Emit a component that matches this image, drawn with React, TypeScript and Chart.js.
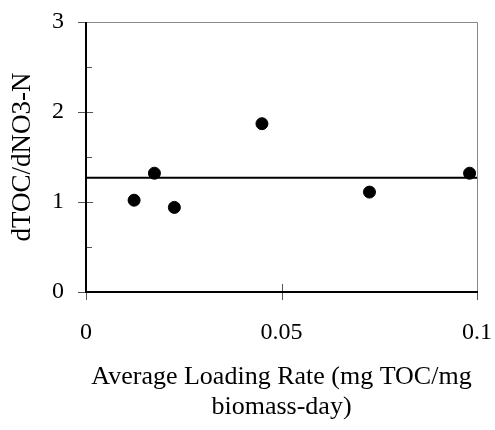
import React, { useEffect, useRef } from "react";
import { Chart, registerables } from "chart.js";

Chart.register(...registerables);

const loadingRate = [0.0123, 0.0175, 0.0226, 0.045, 0.0725, 0.0981];
const dTocNo3 = [1.02, 1.32, 0.94, 1.87, 1.11, 1.32];
const meanRatio = 1.27;
const xTicks = [0, 0.05, 0.1];
const yTicks = [0, 1, 2, 3];
const yMinorTicks = [0.5, 1.5, 2.5];
const xTitle = ["Average Loading Rate (mg TOC/mg", "biomass-day)"];
const yTitle = "dTOC/dNO3-N";

const FONT = "'Liberation Serif', 'Times New Roman', serif";

const framePlugin = {
  id: "frame",
  afterDatasetsDraw(chart: any) {
    const { ctx, chartArea } = chart;
    const { left, right, top, bottom } = chartArea;
    const xs = chart.scales.x;
    const ys = chart.scales.y;
    ctx.save();
    ctx.strokeStyle = "#888";
    ctx.lineWidth = 1;
    ctx.beginPath();
    ctx.moveTo(left, top + 0.5);
    ctx.lineTo(right + 0.5, top + 0.5);
    ctx.lineTo(right + 0.5, bottom);
    ctx.stroke();
    ctx.strokeStyle = "#555";
    ctx.lineWidth = 1;
    ctx.beginPath();
    yTicks.forEach((v) => {
      const y = Math.round(ys.getPixelForValue(v)) + 0.5;
      ctx.moveTo(left - 8, y);
      ctx.lineTo(v === 0 || v === 3 ? left : left + 7, y);
    });
    yMinorTicks.forEach((v) => {
      const y = Math.round(ys.getPixelForValue(v)) + 0.5;
      ctx.moveTo(left, y);
      ctx.lineTo(left + 6, y);
    });
    xTicks.forEach((v, i) => {
      const x = Math.round(xs.getPixelForValue(v)) + 0.5;
      const inner = i > 0 && i < xTicks.length - 1;
      ctx.moveTo(x, inner ? bottom - 8 : bottom);
      ctx.lineTo(x, bottom + 8);
    });
    ctx.stroke();
    ctx.strokeStyle = "#000";
    ctx.lineWidth = 2;
    ctx.beginPath();
    ctx.moveTo(left, top);
    ctx.lineTo(left, bottom);
    ctx.lineTo(right + 1, bottom);
    ctx.stroke();
    ctx.restore();
  },
};

export default function App() {
  const ref = useRef<HTMLCanvasElement | null>(null);
  useEffect(() => {
    if (!ref.current) return;
    const chart = new Chart(ref.current, {
      type: "scatter",
      data: {
        datasets: [
          {
            type: "scatter",
            data: loadingRate.map((x, i) => ({ x, y: dTocNo3[i] })),
            backgroundColor: "#000",
            borderColor: "#000",
            pointRadius: 6,
            pointHoverRadius: 6,
            clip: false as any,
            order: 0,
          },
          {
            type: "line",
            data: [
              { x: xTicks[0], y: meanRatio },
              { x: xTicks[xTicks.length - 1], y: meanRatio },
            ],
            borderColor: "#000",
            borderWidth: 2,
            pointRadius: 0,
            fill: false,
            order: 1,
          } as any,
        ],
      },
      options: {
        animation: false,
        responsive: false,
        events: [],
        layout: { padding: { left: 0, top: 22, right: 18, bottom: 0 } },
        plugins: { legend: { display: false }, tooltip: { enabled: false } },
        scales: {
          x: {
            type: "linear",
            min: 0,
            max: 0.1,
            afterBuildTicks: (s: any) => {
              s.ticks = xTicks.map((v) => ({ value: v }));
            },
            afterFit: (s: any) => {
              s.height = 138;
              s.paddingLeft = 0;
              s.paddingRight = 0;
            },
            grid: { display: false, drawTicks: false },
            border: { display: false },
            ticks: {
              color: "#000",
              padding: 26,
              maxRotation: 0,
              font: { family: FONT, size: 24 },
              callback: (v: any) => String(Number(v)),
            },
            title: {
              display: true,
              text: xTitle,
              color: "#000",
              font: { family: FONT, size: 26, lineHeight: 1.15 },
              padding: { top: 0, bottom: 8 },
            },
          },
          y: {
            type: "linear",
            min: 0,
            max: 3,
            afterBuildTicks: (s: any) => {
              s.ticks = yTicks.map((v) => ({ value: v }));
            },
            afterFit: (s: any) => {
              s.width = 86;
              s.paddingTop = 0;
              s.paddingBottom = 0;
            },
            grid: { display: false, drawTicks: false },
            border: { display: false },
            ticks: {
              color: "#000",
              padding: 22,
              font: { family: FONT, size: 24 },
              callback: (v: any) => String(Number(v)),
            },
            title: {
              display: true,
              text: yTitle,
              color: "#000",
              font: { family: FONT, size: 27, lineHeight: 1.1 },
              padding: { top: 8, bottom: 0 },
            },
          },
        },
      },
      plugins: [framePlugin],
    });
    return () => chart.destroy();
  }, []);
  return (
    <div style={{ position: "fixed", left: 0, top: 0, width: 495, height: 430, background: "#fff" }}>
      <canvas ref={ref} width={495} height={430} style={{ width: 495, height: 430, display: "block" }} />
    </div>
  );
}
